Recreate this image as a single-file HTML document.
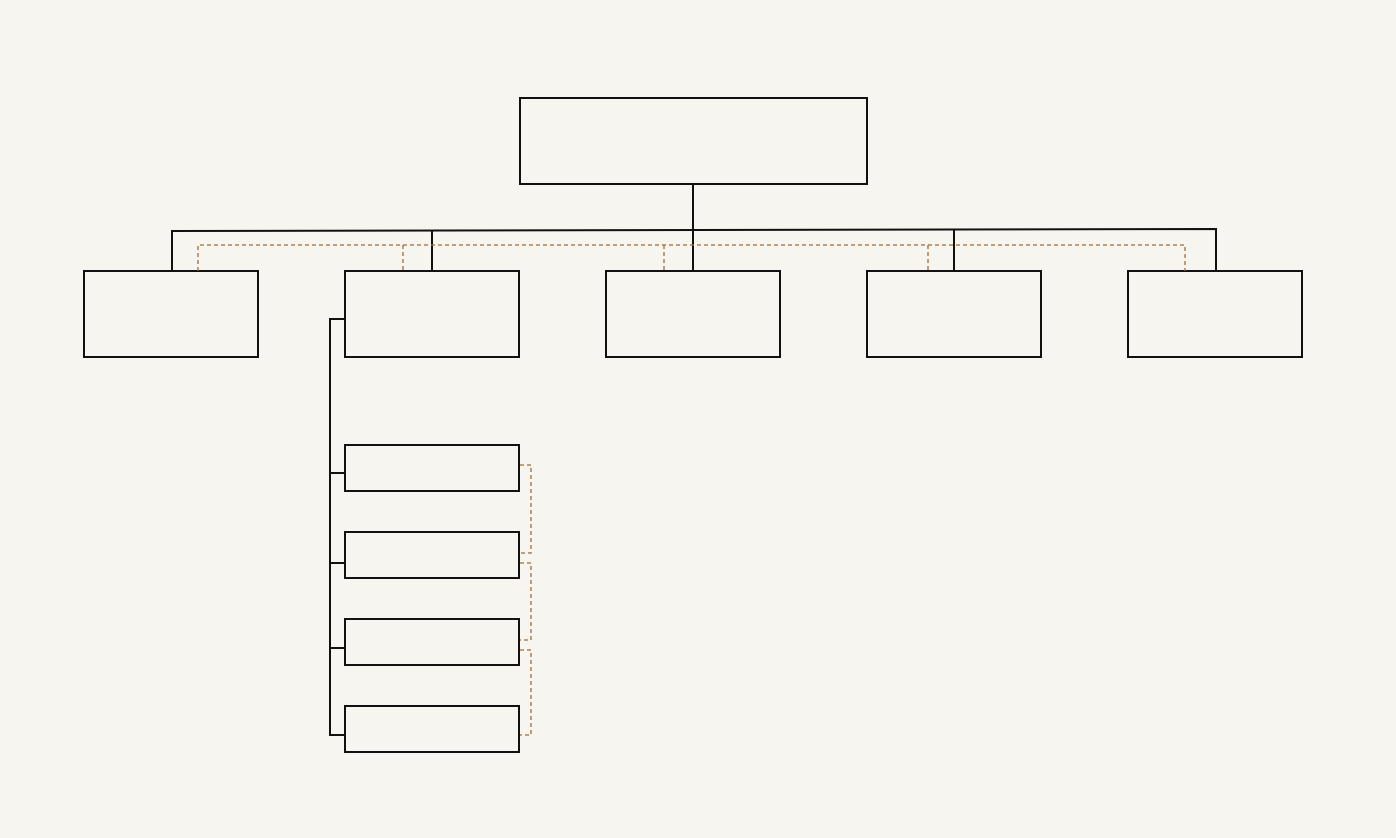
<!DOCTYPE html>
<html><head><meta charset="utf-8"><style>
html,body{margin:0;padding:0;background:#f7f5f0;}
svg{display:block}
</style></head><body>
<svg width="1396" height="838" viewBox="0 0 1396 838" xmlns="http://www.w3.org/2000/svg">
<rect width="1396" height="838" fill="#f7f5f0"/>
<g fill="none" stroke="#111" stroke-width="2">
<rect x="520" y="98" width="347" height="86"/>
<rect x="84" y="271" width="174" height="86"/>
<rect x="345" y="271" width="174" height="86"/>
<rect x="606" y="271" width="174" height="86"/>
<rect x="867" y="271" width="174" height="86"/>
<rect x="1128" y="271" width="174" height="86"/>
<rect x="345" y="445" width="174" height="46"/>
<rect x="345" y="532" width="174" height="46"/>
<rect x="345" y="619" width="174" height="46"/>
<rect x="345" y="706" width="174" height="46"/>
<line x1="693" y1="184" x2="693" y2="271"/>
<polyline points="172,271 172,231 1216,229 1216,271"/>
<line x1="432" y1="231" x2="432" y2="271"/>
<line x1="954" y1="230" x2="954" y2="271"/>
<polyline points="345,319 330,319 330,735 345,735"/>
<line x1="330" y1="473" x2="345" y2="473"/>
<line x1="330" y1="563" x2="345" y2="563"/>
<line x1="330" y1="648" x2="345" y2="648"/>
</g>
<g fill="none" stroke="#a86a2e" stroke-width="1.3" stroke-dasharray="4,3">
<polyline points="198,271 198,245 1185,245 1185,271"/>
<line x1="403" y1="245" x2="403" y2="271"/>
<line x1="664" y1="245" x2="664" y2="271"/>
<line x1="928" y1="245" x2="928" y2="271"/>
<polyline points="520,465 531,465 531,553 520,553"/>
<polyline points="520,563 531,563 531,640 520,640"/>
<polyline points="520,650 531,650 531,735 520,735"/>
</g>
</svg>
</body></html>
